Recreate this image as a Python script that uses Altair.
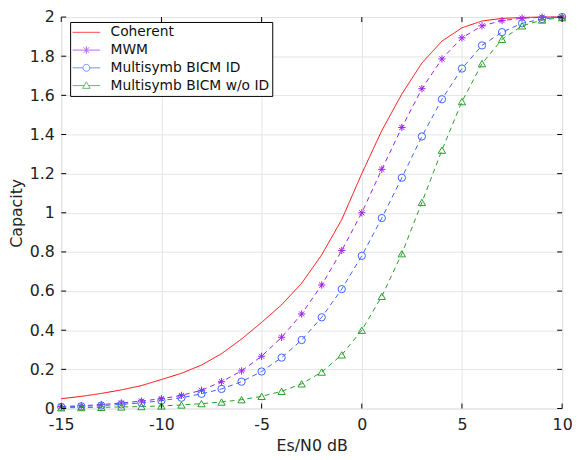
import altair as alt
import pandas as pd

x_vals = list(range(-15, 11))
series_names = ["Coherent", "MWM", "Multisymb BICM ID", "Multisymb BICM w/o ID"]
colors = ["#ff0000", "#a020f0", "#3c64ff", "#27a027"]

coherent = [0.05, 0.062, 0.077, 0.095, 0.117, 0.148, 0.18, 0.222, 0.28, 0.355, 0.44, 0.53, 0.64,
            0.785, 0.965, 1.2, 1.42, 1.607, 1.765, 1.877, 1.945, 1.98, 1.993, 1.998, 2.0, 2.0]
mwm = [0.01, 0.014, 0.02, 0.028, 0.038, 0.05, 0.067, 0.093, 0.137, 0.192, 0.267, 0.364, 0.483,
       0.631, 0.807, 1.0, 1.222, 1.436, 1.634, 1.786, 1.894, 1.955, 1.982, 1.994, 1.999, 2.0]
bicm_id = [0.008, 0.011, 0.015, 0.021, 0.029, 0.04, 0.055, 0.075, 0.1, 0.137, 0.189, 0.26, 0.35,
           0.466, 0.61, 0.78, 0.973, 1.179, 1.39, 1.58, 1.737, 1.855, 1.923, 1.968, 1.99, 2.0]
bicm_noid = [0.004, 0.005, 0.006, 0.008, 0.01, 0.013, 0.018, 0.025, 0.033, 0.045, 0.062, 0.088, 0.126,
             0.186, 0.274, 0.4, 0.573, 0.791, 1.053, 1.32, 1.568, 1.762, 1.886, 1.955, 1.985, 1.997]

x_ticks = [-15, -10, -5, 0, 5, 10]
y_ticks = [0, 0.2, 0.4, 0.6, 0.8, 1.0, 1.2, 1.4, 1.6, 1.8, 2.0]

# marker shapes (unit square paths)
asterisk = "M-1,0L1,0M0,-1L0,1M-0.7,-0.7L0.7,0.7M-0.7,0.7L0.7,-0.7"
marker_shapes = [asterisk, "circle", "triangle-up"]
legend_paths = [
    "M-2,0L2,0",
    "M-2,0L2,0M0,-0.55L0,0.55M-0.4,-0.4L0.4,0.4M-0.4,0.4L0.4,-0.4",
    "M-2,0L-0.5,0M0.5,0L2,0M-0.5,0A0.5,0.5,0,1,1,0.5,0A0.5,0.5,0,1,1,-0.5,0",
    "M-2,0L-0.32,0M0.32,0L2,0M0,-0.55L0.55,0.4L-0.55,0.4Z",
]

rows = []
for name, vals in zip(series_names, [coherent, mwm, bicm_id, bicm_noid]):
    for xv, yv in zip(x_vals, vals):
        rows.append({"x": xv, "y": yv, "series": name})
df = pd.DataFrame(rows)

W, H = 508, 397
FONT = "DejaVu Sans"

xscale = alt.Scale(domain=[-15, 10], nice=False, zero=False)
yscale = alt.Scale(domain=[0, 2], nice=False, zero=False)
color_scale = alt.Scale(domain=series_names, range=colors)

x_axis = alt.Axis(values=x_ticks, grid=True, gridColor="#e3e6e6", ticks=False, domain=False,
                  labelFlush=False, labelOverlap=False,
                  labelExpr="datum.value < 0 ? '-' + format(-datum.value, 'd') : format(datum.value, 'd')",
                  labelFont=FONT, labelFontSize=16, labelColor="#222", labelPadding=8,
                  title="Es/N0 dB", titleFont=FONT, titleFontSize=16, titleFontWeight="normal",
                  titleColor="#222", titleY=38, titleBaseline="middle")
y_axis = alt.Axis(values=y_ticks, grid=True, gridColor="#e3e6e6", ticks=False, domain=False,
                  labelFlush=False, labelOverlap=False,
                  labelExpr="format(datum.value, '.1~f')",
                  labelFont=FONT, labelFontSize=16, labelColor="#222", labelPadding=7,
                  title="Capacity", titleFont=FONT, titleFontSize=16, titleFontWeight="normal",
                  titleColor="#222", titleX=-45, titleY=H / 2, titleBaseline="middle")

X = alt.X("x:Q", scale=xscale, axis=x_axis)
Y = alt.Y("y:Q", scale=yscale, axis=y_axis)

base = alt.Chart(df)

lines = base.mark_line(strokeWidth=1).encode(
    x=X, y=Y,
    color=alt.Color("series:N", scale=color_scale, legend=None),
    strokeDash=alt.StrokeDash("series:N", scale=alt.Scale(domain=series_names,
                              range=[[1, 0], [5, 4], [5, 4], [5, 4]]), legend=None),
    detail="series:N",
)

points = base.transform_filter(alt.datum.series != "Coherent").mark_point(
    filled=False, strokeWidth=1, size=55, opacity=1).encode(
    x=X, y=Y,
    color=alt.Color("series:N", scale=color_scale, legend=None),
    shape=alt.Shape("series:N", scale=alt.Scale(domain=series_names[1:], range=marker_shapes), legend=None),
)

leg = dict(
    title=None, orient="none", legendX=9, legendY=5, strokeColor="black", fillColor="white",
    padding=3, labelFont=FONT, labelFontSize=14, labelColor="#111", labelLimit=0,
    symbolSize=196, symbolOffset=6, labelOffset=17, rowPadding=3, symbolStrokeWidth=1,
    cornerRadius=0)

legend_layer = base.transform_filter(alt.datum.x > 1000).mark_point(filled=False, strokeWidth=1).encode(
    x=X, y=Y,
    color=alt.Color("series:N", scale=color_scale, legend=alt.Legend(**leg)),
    shape=alt.Shape("series:N", scale=alt.Scale(domain=series_names, range=legend_paths),
                    legend=alt.Legend(**leg)),
)

xt = pd.DataFrame({"x": x_ticks})
yt = pd.DataFrame({"y": y_ticks})
tick_b = alt.Chart(xt).mark_rule(color="black", strokeWidth=1).encode(
    x=X, y=alt.value(H), y2=alt.value(H - 5))
tick_t = alt.Chart(xt).mark_rule(color="black", strokeWidth=1).encode(
    x=X, y=alt.value(0), y2=alt.value(5))
tick_l = alt.Chart(yt).mark_rule(color="black", strokeWidth=1).encode(
    y=Y, x=alt.value(0), x2=alt.value(5))
tick_r = alt.Chart(yt).mark_rule(color="black", strokeWidth=1).encode(
    y=Y, x=alt.value(W), x2=alt.value(W - 5))

chart = alt.layer(lines, points, legend_layer, tick_b, tick_t, tick_l, tick_r).resolve_scale(
    color="independent", shape="independent", strokeDash="independent"
).properties(
    width=W, height=H,
    autosize=alt.AutoSizeParams(type="none"),
    padding={"left": 54, "top": 6, "right": 10, "bottom": 46},
).configure_view(stroke="black", strokeWidth=1).configure(background="white")

chart.save("out.html", embed_options={"renderer": "svg", "actions": False})
